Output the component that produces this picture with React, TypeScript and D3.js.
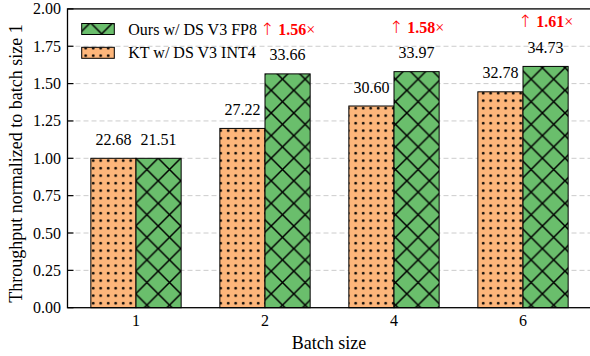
import React, { useEffect, useRef } from 'react';
import * as d3 from 'd3';

// chart data
const batchSizes = ['1', '2', '4', '6'];
const ktNorm = [1.0, 1.2, 1.35, 1.445];
const oursNorm = [1.0, 1.565, 1.58, 1.615];
const ktLabels = ['22.68', '27.22', '30.60', '32.78'];
const oursLabels = ['21.51', '33.66', '33.97', '34.73'];
const speedups = ['', '1.56', '1.58', '1.61'];
const yTicks = [0, 0.25, 0.5, 0.75, 1.0, 1.25, 1.5, 1.75, 2.0];

const ORANGE = '#FDB67B';
const GREEN = '#6ABE6C';
const FONT = '"Liberation Serif", "Times New Roman", serif';

const App = () => {
  const ref = useRef<SVGSVGElement | null>(null);

  useEffect(() => {
    document.body.style.margin = '0';
    const svg = d3.select(ref.current);
    svg.selectAll('*').remove();

    const left = 67.5;
    const right = 591.5;
    const top = 8.9;
    const bottom = 307.7;
    const barW = 0.35;

    const x = d3.scaleLinear().domain([-0.531, 3.531]).range([left, right]);
    const y = d3.scaleLinear().domain([0, 2]).range([bottom, top]);

    // Patterns
    const defs = svg.append('defs');
    const dot = defs
      .append('pattern')
      .attr('id', 'dots')
      .attr('patternUnits', 'userSpaceOnUse')
      .attr('width', 7.5)
      .attr('height', 7.5);
    dot.append('rect').attr('width', 7.5).attr('height', 7.5).attr('fill', ORANGE);
    dot.append('circle').attr('cx', 3.2).attr('cy', 3.2).attr('r', 1.35).attr('fill', '#000');

    const w = 22.6;
    const xh = defs
      .append('pattern')
      .attr('id', 'xhatch')
      .attr('patternUnits', 'userSpaceOnUse')
      .attr('width', w)
      .attr('height', w);
    xh.append('rect').attr('width', w).attr('height', w).attr('fill', GREEN);
    let d = '';
    [-1, 0, 1].forEach((k) => {
      d += `M${-w},${-w + k * w}L${2 * w},${2 * w + k * w}`;
    });
    [0, 1, 2].forEach((k) => {
      const c = k * w;
      d += `M${-w},${c + w}L${2 * w},${c - 2 * w}`;
    });
    xh.append('path').attr('d', d).attr('stroke', '#000').attr('stroke-width', 1.5).attr('fill', 'none');

    // Grid lines
    svg
      .append('g')
      .selectAll('line')
      .data(yTicks.filter((t) => t > 0 && t < 2))
      .enter()
      .append('line')
      .attr('x1', left)
      .attr('x2', right)
      .attr('y1', (t) => y(t))
      .attr('y2', (t) => y(t))
      .attr('stroke', '#cccccc')
      .attr('stroke-width', 1)
      .attr('stroke-dasharray', '5,3');

    // Bars
    const bars = svg.append('g');
    bars
      .selectAll('.kt')
      .data(ktNorm)
      .enter()
      .append('rect')
      .attr('x', (v, i) => x(i - barW))
      .attr('width', (v, i) => x(i) - x(i - barW))
      .attr('y', (v) => y(v))
      .attr('height', (v) => bottom - y(v))
      .attr('fill', 'url(#dots)')
      .attr('stroke', '#000')
      .attr('stroke-width', 1);
    bars
      .selectAll('.ours')
      .data(oursNorm)
      .enter()
      .append('rect')
      .attr('x', (v, i) => x(i))
      .attr('width', (v, i) => x(i + barW) - x(i))
      .attr('y', (v) => y(v))
      .attr('height', (v) => bottom - y(v))
      .attr('fill', 'url(#xhatch)')
      .attr('stroke', '#000')
      .attr('stroke-width', 1);

    // Frame
    svg
      .append('rect')
      .attr('x', left)
      .attr('y', top)
      .attr('width', right - left)
      .attr('height', bottom - top)
      .attr('fill', 'none')
      .attr('stroke', '#000')
      .attr('stroke-width', 1.3);

    // Y ticks (inward) and labels
    const yAxis = svg.append('g');
    yAxis
      .selectAll('line')
      .data(yTicks)
      .enter()
      .append('line')
      .attr('x1', left)
      .attr('x2', left + 6)
      .attr('y1', (t) => y(t))
      .attr('y2', (t) => y(t))
      .attr('stroke', '#000')
      .attr('stroke-width', 1.2);
    yAxis
      .selectAll('text')
      .data(yTicks)
      .enter()
      .append('text')
      .attr('x', 61)
      .attr('y', (t) => y(t) + 5.5)
      .attr('text-anchor', 'end')
      .style('font-family', FONT)
      .style('font-size', '16px')
      .text((t) => t.toFixed(2));

    // X tick labels
    svg
      .append('g')
      .selectAll('text')
      .data(batchSizes)
      .enter()
      .append('text')
      .attr('x', (b, i) => x(i))
      .attr('y', 326)
      .attr('text-anchor', 'middle')
      .style('font-family', FONT)
      .style('font-size', '16px')
      .text((b) => b);

    // Axis titles
    svg
      .append('text')
      .attr('x', (left + right) / 2 - 0.5)
      .attr('y', 349.3)
      .attr('text-anchor', 'middle')
      .style('font-family', FONT)
      .style('font-size', '18px')
      .text('Batch size');
    svg
      .append('text')
      .attr('transform', `translate(21.5,163.5) rotate(-90)`)
      .attr('text-anchor', 'middle')
      .style('font-family', FONT)
      .style('font-size', '18px')
      .text('Throughput normalized to batch size 1');

    // Value labels
    const labels = svg.append('g').style('font-family', FONT).style('font-size', '16px');
    labels
      .selectAll('.ktl')
      .data(ktNorm)
      .enter()
      .append('text')
      .attr('x', (v, i) => x(i - barW / 2))
      .attr('y', (v) => y(v) - 13.5)
      .attr('text-anchor', 'middle')
      .text((v, i) => ktLabels[i]);
    labels
      .selectAll('.oursl')
      .data(oursNorm)
      .enter()
      .append('text')
      .attr('x', (v, i) => x(i + barW / 2))
      .attr('y', (v) => y(v) - 13.5)
      .attr('text-anchor', 'middle')
      .text((v, i) => oursLabels[i]);

    // Speedup annotations
    oursNorm.forEach((v, i) => {
      if (!speedups[i]) return;
      const t = svg
        .append('text')
        .attr('x', x(i + barW / 2))
        .attr('y', y(v) - 39)
        .attr('text-anchor', 'middle')
        .attr('fill', '#ff0000')
        .style('font-family', FONT)
        .style('font-size', '16px');
      t.append('tspan').style('font-family', '"DejaVu Sans", sans-serif').style('font-size', '17px').style('font-weight', '200').text('↑');
      t.append('tspan').text(' ');
      t.append('tspan').style('font-weight', 'bold').text(speedups[i]);
      t.append('tspan').text('×');
    });

    // Legend
    const legend = [
      { label: 'Ours w/ DS V3 FP8', fill: 'url(#xhatch)', cy: 29 },
      { label: 'KT w/ DS V3 INT4', fill: 'url(#dots)', cy: 52.8 },
    ];
    const lg = svg.append('g');
    legend.forEach((l) => {
      lg.append('rect')
        .attr('x', 81.7)
        .attr('y', l.cy - 5.5)
        .attr('width', 32.6)
        .attr('height', 11)
        .attr('fill', l.fill)
        .attr('stroke', '#000')
        .attr('stroke-width', 1);
      lg.append('text')
        .attr('x', 128.3)
        .attr('y', l.cy + 5.5)
        .style('font-family', FONT)
        .style('font-size', '16px')
        .text(l.label);
    });
  }, []);

  return (
    <div style={{ position: 'absolute', left: 0, top: 0 }}>
      <svg ref={ref} width={590} height={356} style={{ display: 'block', background: '#fff' }} />
    </div>
  );
};

export default App;
